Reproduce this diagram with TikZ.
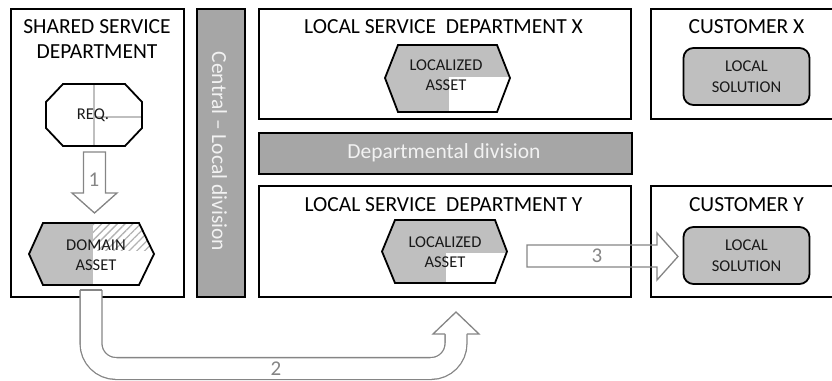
\documentclass[tikz,border=0pt]{standalone}
\usepackage{fontspec}
\setmainfont{Carlito}
\usetikzlibrary{patterns.meta}
\definecolor{fillgray}{HTML}{BFBFBF}
\definecolor{hatchgray}{HTML}{B3B3B3}
\definecolor{bargray}{HTML}{A6A6A6}
\definecolor{arrowgray}{HTML}{858585}
\definecolor{bartextgray}{HTML}{F2F2F2}
\begin{document}
\begin{tikzpicture}[x=1pt,y=-1pt,
	unitbox/.style={draw,line width=1.8pt,anchor=north west,inner sep=0pt},
	bar/.style={unitbox,fill=bargray,line width=1.5pt},
	title/.style={align=center,font=\fontsize{21.5}{24.5}\selectfont,text=black},
	label/.style={align=center,font=\fontsize{16.5}{20.5}\selectfont,text=black!90},
	bartext/.style={text=bartextgray,font=\fontsize{21.5}{22}\selectfont},
	blockarrow/.style={draw=arrowgray,line width=1.3pt},
	num/.style={text=arrowgray,font=\fontsize{21}{22}\selectfont},
	solution/.style={label,draw,line width=1.8pt,fill=fillgray,rounded corners=10pt,minimum width=126pt,minimum height=57pt}]
	\useasboundingbox (0,0) rectangle (832,380);
	% units and division bars
	\node[unitbox,minimum width=173pt,minimum height=288pt] (shared) at (10,8) {};
	\node[bar,minimum width=48pt,minimum height=288pt] (central) at (196,8) {};
	\node[unitbox,minimum width=372pt,minimum height=110pt] (localx) at (258,8) {};
	\node[bar,minimum width=373pt,minimum height=41pt] (division) at (258,132) {};
	\node[unitbox,minimum width=372pt,minimum height=111pt] (localy) at (258,185) {};
	\node[unitbox,minimum width=190pt,minimum height=110pt] (custx) at (650,8) {};
	\node[unitbox,minimum width=190pt,minimum height=111pt] (custy) at (650,185) {};
	\node[bartext,rotate=-90] (centraltext) at (219.5,151.5) {Central -- Local division};
	\node[bartext] (divisiontext) at (444,152.5) {Departmental division};
	\node[title] (sharedtitle) at (97,39) {SHARED SERVICE\\DEPARTMENT};
	\node[title] (localxtitle) at (443.5,26.5) {LOCAL SERVICE\ \ DEPARTMENT X};
	\node[title] (localytitle) at (443.5,205) {LOCAL SERVICE\ \ DEPARTMENT Y};
	\node[title] (custxtitle) at (746.5,27) {CUSTOMER X};
	\node[title] (custytitle) at (746.5,205) {CUSTOMER Y};
	% requirement
	\draw[fillgray,line width=1.3pt] (94,84) -- (94,146) (94,117) -- (142,117) ;
	\draw[line width=1.8pt] (46,102) -- (63,84) -- (125,84) -- (142,102) -- (142,128) -- (125,146) -- (63,146) -- (46,128) -- cycle ;
	\node[label] (req) at (93,115) {REQ.};
	% domain asset
	\begin{scope}
		\clip (29,254) -- (43,223) -- (139,223) -- (154,254) -- (139,285) -- (43,285) -- cycle ;
		\fill[fillgray] (25,218) rectangle (93,290) ;
		\fill[pattern={Lines[angle=45,distance=5.5pt,line width=1.3pt]},pattern color=hatchgray] (93,218) rectangle (160,250) ;
	\end{scope}
	\draw[line width=1.8pt] (29,254) -- (43,223) -- (139,223) -- (154,254) -- (139,285) -- (43,285) -- cycle ;
	\node[label] (domain) at (96,255) {DOMAIN\\ASSET};
	% localized assets
	\begin{scope}
		\clip (385,78) -- (398,45) -- (497,45) -- (510,78) -- (497,112) -- (398,112) -- cycle ;
		\fill[fillgray] (380,40) rectangle (515,117) ;
		\fill[white] (449,77) rectangle (515,117) ;
	\end{scope}
	\draw[line width=1.8pt] (385,78) -- (398,45) -- (497,45) -- (510,78) -- (497,112) -- (398,112) -- cycle ;
	\node[label] (assetx) at (446,75) {LOCALIZED\\ASSET};
	\begin{scope}
		\clip (382,251.5) -- (395,220) -- (495,220) -- (507,251.5) -- (495,283) -- (395,283) -- cycle ;
		\fill[fillgray] (378,215) rectangle (512,288) ;
		\fill[white] (446,253) rectangle (512,288) ;
	\end{scope}
	\draw[line width=1.8pt] (382,251.5) -- (395,220) -- (495,220) -- (507,251.5) -- (495,283) -- (395,283) -- cycle ;
	\node[label] (assety) at (445,252) {LOCALIZED\\ASSET};
	% local solutions
	\node[solution] (solx) at (746.5,76.5) {LOCAL\\SOLUTION};
	\node[solution] (soly) at (746.5,255.5) {LOCAL\\SOLUTION};
	% block arrows
	\draw[blockarrow] (83.5,152) -- (105.5,152) -- (105.5,193) -- (117,193) -- (94.5,213) -- (72,193) -- (83.5,193) -- cycle ;
	\node[num] (one) at (94,180) {1};
	\draw[blockarrow] (527,245) -- (657,245) -- (657,233) -- (678,256.5) -- (657,280) -- (657,267) -- (527,267) -- cycle ;
	\node[num] (three) at (597,256) {3};
	\draw[arrowgray,line width=1.3pt,double=white,double distance=20.5pt,rounded corners=25pt] (91,290) -- (91,368.5) -- (456,368.5) -- (456,334) ;
	\draw[blockarrow,line cap=square] (80.1,290) -- (101.9,290) ;
	\draw[blockarrow,fill=white] (445.1,334) -- (433,334) -- (456,312) -- (479,334) -- (466.9,334) ;
	\node[num] (two) at (276,369) {2};
\end{tikzpicture}
\end{document}
